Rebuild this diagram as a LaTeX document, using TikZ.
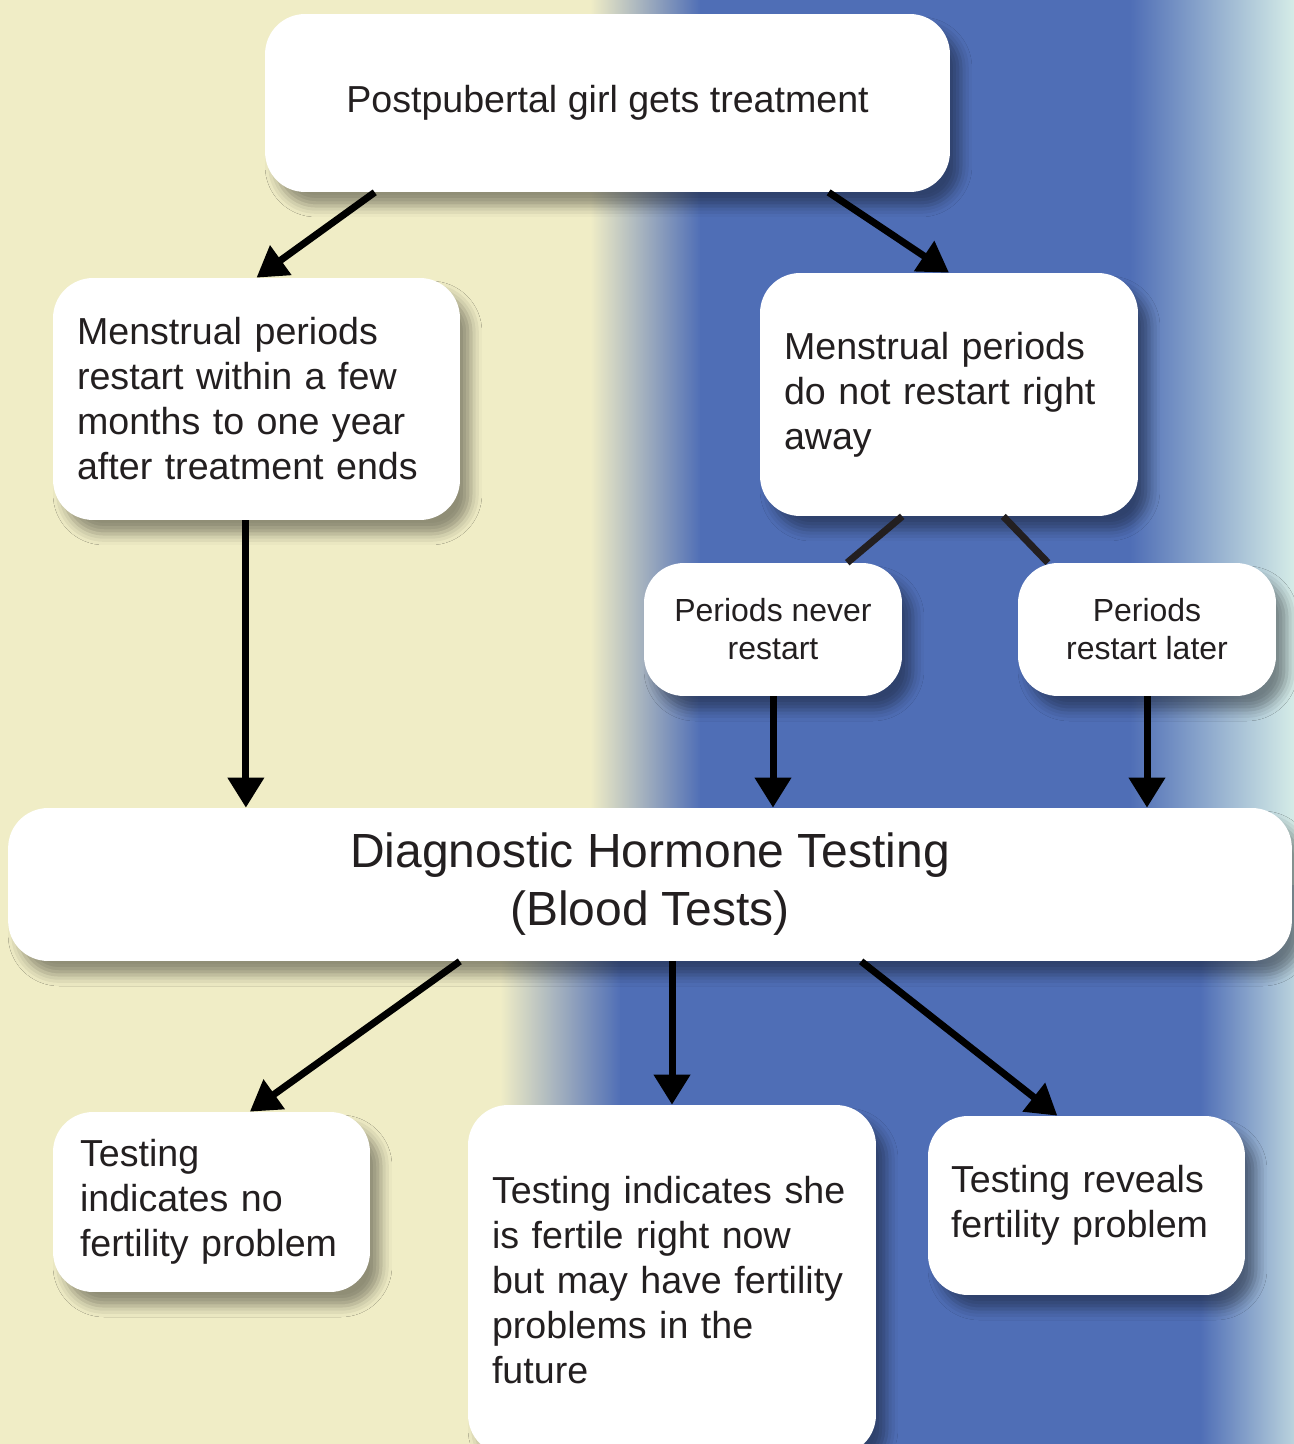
\documentclass[tikz,border=0pt]{standalone}
\usepackage{fontspec}
\setmainfont{Liberation Sans}
\usepackage{tikz}
\usetikzlibrary{arrows.meta, shadows.blur}
\definecolor{cream}{RGB}{240,237,198}
\definecolor{bgblue}{RGB}{79,110,182}
\definecolor{bglight}{RGB}{213,236,231}
\definecolor{ink}{RGB}{35,31,32}
\newcommand{\txtnorm}{\fontsize{21.4}{25.6}\selectfont}
\newcommand{\txtsmall}{\fontsize{18.2}{21.6}\selectfont}
\newcommand{\txtbig}{\fontsize{27.3}{33}\selectfont}

\begin{document}
\begin{tikzpicture}
	[x=0.02cm, y=-0.02cm,
	box/.style={draw=none, fill=white, rounded corners=0.8cm, text=ink,
		inner xsep=0.48cm, inner ysep=0pt, font=\txtnorm,
		blur shadow={shadow xshift=0.22cm, shadow yshift=-0.28cm,
			shadow blur radius=0.22cm, shadow opacity=40}},
	arr/.style={draw=black, line width=0.14cm, -{Triangle[length=0.6cm, width=0.7cm]}},
	link/.style={draw=ink, line width=0.14cm}]
	\useasboundingbox (0,0) rectangle (1294,1444);
	% background bands
	\fill[cream] (0,0) rectangle (591,886);
	\shade[left color=cream, right color=bgblue] (590,0) rectangle (701,886);
	\fill[bgblue] (700,0) rectangle (1131,886);
	\shade[left color=bgblue, right color=bglight] (1130,0) rectangle (1294,886);
	\fill[cream] (0,885) rectangle (501,1444);
	\shade[left color=cream, right color=bgblue] (500,885) rectangle (621,1444);
	\fill[bgblue] (620,885) rectangle (1201,1444);
	\shade[left color=bgblue, right color=bglight!80!bgblue] (1200,885) rectangle (1294,1444);
	% boxes
	\node[box, minimum width=13.7cm, minimum height=3.56cm] (treat) at (607.5,103)
		{Postpubertal girl gets treatment};
	\node[box, text width=7.18cm, align=left, minimum height=4.84cm] (soon) at (256.5,399)
		{Menstrual periods\\ restart within a few\\ months to one year\\ after treatment ends};
	\node[box, text width=6.6cm, align=left, minimum height=4.86cm] (notyet) at (949,394.5)
		{Menstrual periods\\ do not restart right\\ away};
	\node[box, font=\txtsmall, minimum width=5.16cm, minimum height=2.66cm, align=center] (never) at (773,629.5)
		{Periods never\\ restart};
	\node[box, font=\txtsmall, minimum width=5.16cm, minimum height=2.66cm, align=center] (later) at (1147,629.5)
		{Periods\\ restart later};
	\node[box, font=\txtbig, minimum width=25.68cm, minimum height=3.06cm, align=center] (diag) at (650,884.5)
		{Diagnostic Hormone Testing\\ (Blood Tests)};
	\node[box, inner xsep=0.54cm, text width=5.26cm, align=left, minimum height=3.6cm] (noprob) at (211.5,1202)
		{Testing\\ indicates no\\ fertility problem};
	\node[box, text width=7.2cm, align=left, minimum height=7cm] (future) at (672,1280)
		{Testing indicates she\\ is fertile right now\\ but may have fertility\\ problems in the\\ future};
	\node[box, inner xsep=0.46cm, text width=5.42cm, align=left, minimum height=3.58cm] (prob) at (1086.5,1205.5)
		{Testing reveals\\ fertility problem};
	% connectors
	\draw[arr] (treat.201.4) -- (soon.north);
	\draw[arr] (treat.338.6) -- (notyet.north);
	\draw[link] (notyet.249) -- (never.42);
	\draw[link] (notyet.294) -- (later.146);
	\draw[arr] (soon.265.5) -- (soon.265.5 |- diag.north);
	\draw[arr] (never.south) -- (never.south |- diag.north);
	\draw[arr] (later.south) -- (later.south |- diag.north);
	\draw[arr] (diag.202.6) -- (noprob.67);
	\draw[arr] (future.north |- diag.south) -- (future.north);
	\draw[arr] (diag.340.25) -- (prob.108);
\end{tikzpicture}
\end{document}
